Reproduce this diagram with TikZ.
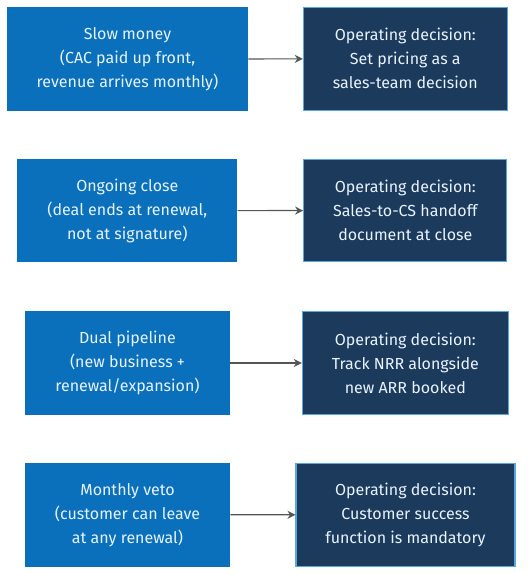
\documentclass[tikz,border=0pt]{standalone}
\usepackage{fontspec}
\setmainfont{Fira Sans}
\usetikzlibrary{arrows.meta}
\definecolor{causeblue}{HTML}{0A70BC}
\definecolor{decnavy}{HTML}{1C3A5C}
\definecolor{decedge}{HTML}{5AA6DE}
\definecolor{txtlight}{HTML}{E8F3FF}
\definecolor{arrowgray}{HTML}{555555}
\tikzset{
  causebox/.style={fill=causeblue, draw=none, text=txtlight, align=center, font=\fontsize{12}{18}\selectfont},
  decbox/.style={fill=decnavy, draw=decedge, line width=0.8pt, text=txtlight, align=center, font=\fontsize{12}{18}\selectfont},
  link/.style={draw=arrowgray, line width=0.9pt, -{Stealth[length=6pt,width=6pt]}}
}
\newcommand{\boxat}[6]{% name, style, x1, y1, x2, y2
}
\begin{document}
\begin{tikzpicture}[x=0.75pt,y=-0.75pt]
\useasboundingbox (0,0) rectangle (528,574);
% row 1
\node[causebox, minimum width=241*0.75pt, minimum height=103.5*0.75pt] (c1) at (127.5,59) {Slow money\\(CAC paid up front,\\revenue arrives monthly)};
\node[decbox, minimum width=204*0.75pt, minimum height=103*0.75pt] (d1) at (405.3,58.8) {Operating decision:\\Set pricing as a\\sales-team decision};
% row 2
\node[causebox, minimum width=220*0.75pt, minimum height=103.3*0.75pt] (c2) at (127.3,210.7) {Ongoing close\\(deal ends at renewal,\\not at signature)};
\node[decbox, minimum width=203.3*0.75pt, minimum height=102.4*0.75pt] (d2) at (405.3,210.5) {Operating decision:\\Sales-to-CS handoff\\document at close};
% row 3
\node[causebox, minimum width=204.4*0.75pt, minimum height=104*0.75pt] (c3) at (127.5,363) {Dual pipeline\\(new business +\\renewal/expansion)};
\node[decbox, minimum width=206*0.75pt, minimum height=102.6*0.75pt] (d3) at (405.3,363) {Operating decision:\\Track NRR alongside\\new ARR booked};
% row 4
\node[causebox, minimum width=205*0.75pt, minimum height=104*0.75pt] (c4) at (127.5,514.7) {Monthly veto\\(customer can leave\\at any renewal)};
\node[decbox, minimum width=219*0.75pt, minimum height=103*0.75pt] (d4) at (405.5,514.8) {Operating decision:\\Customer success\\function is mandatory};
% links
\draw[link] (c1) -- (d1);
\draw[link] (c2) -- (d2);
\draw[link] (c3) -- (d3);
\draw[link] (c4) -- (d4);
\end{tikzpicture}
\end{document}
